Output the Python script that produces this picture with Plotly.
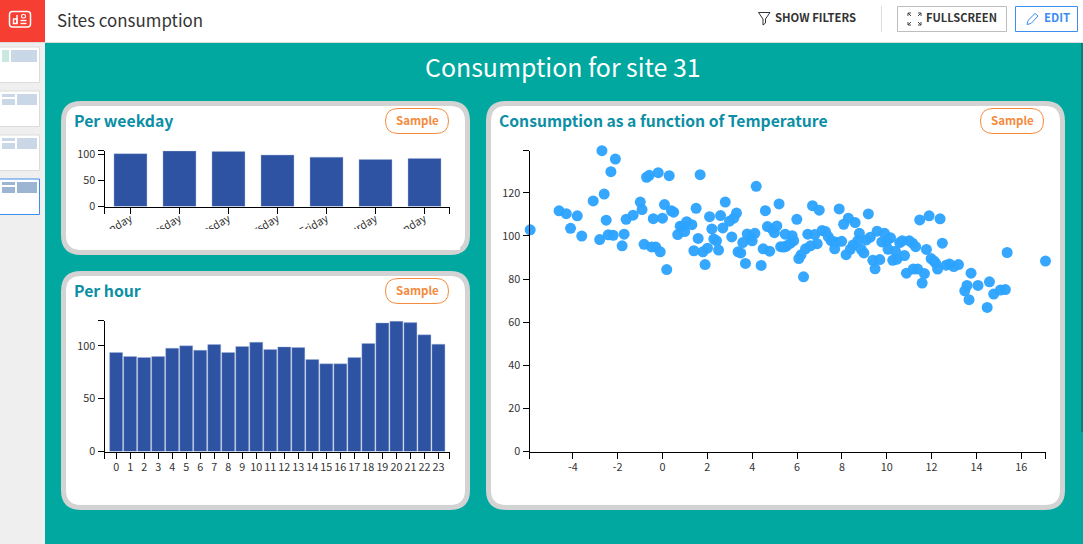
import plotly.graph_objects as go

W, H = 1083, 544
FONT = "Noto Sans CJK SC"

weekdays = ["Monday", "Tuesday", "Wednesday", "Thursday", "Friday", "Saturday", "Sunday"]
weekday_values = [100.6, 105.7, 104.7, 98.0, 94.0, 89.7, 91.6]
hours = list(range(24))
hour_values = [93.7, 89.9, 89.0, 89.9, 97.8, 100.0, 95.9, 101.3, 93.7, 99.4, 103.5, 96.5,
               99.0, 98.4, 87.1, 83.0, 83.0, 89.0, 102.2, 121.7, 123.3, 122.0, 110.4, 101.6]
temperature = [-5.90, -2.70, -2.10, -2.30, -2.60, -3.09, -4.61, -4.29, -3.80, -4.10, -3.60, -2.80,
               -2.51, -2.42, -2.20, -1.71, -1.80, -1.62, -1.31, -0.99, -0.91, -0.82, -0.49, -0.30,
               -0.10, 0.19, -0.71, -0.59, -0.19, 0.30, -0.41, 0.00, 0.09, 0.40, 0.50, 1.50,
               1.68, 2.10, 2.59, 2.80, 3.30, 3.18, 2.99, 2.69, 2.20, 0.68, 0.79, 0.91,
               0.99, 1.08, 1.31, 1.59, 1.40, 1.80, 2.01, 1.90, 2.29, 2.41, 2.50, 3.09,
               3.37, 3.49, 3.70, 4.40, 3.58, 3.78, 4.12, 3.92, 4.00, 4.18, 4.59, 5.20,
               4.49, 4.78, 4.68, 4.89, 4.99, 5.10, 5.47, 5.27, 5.38, 5.54, 5.71, 6.69,
               6.99, 7.88, 5.99, 9.18, 8.29, 8.59, 8.08, 11.47, 11.89, 12.38, 5.78, 6.48,
               6.79, 7.12, 7.27, 7.39, 7.52, 7.71, 7.99, 7.68, 6.90, 6.60, 6.38, 6.18,
               6.08, 6.29, 5.85, 5.48, 8.78, 8.71, 8.50, 8.38, 8.19, 8.86, 8.98, 9.09,
               9.27, 9.57, 9.90, 10.17, 9.78, 9.99, 10.06, 10.39, 9.38, 9.69, 9.48, 10.27,
               10.46, 10.79, 10.58, 10.69, 11.00, 11.15, 11.29, 12.48, 11.77, 11.98, 12.10, 12.18,
               12.27, 12.65, 12.80, 12.99, 13.20, 10.88, 11.18, 11.38, 11.68, 11.58, 13.76, 13.58,
               13.48, 13.67, 14.07, 14.58, 14.77, 14.48, 15.07, 15.29, 15.37, 17.08]
consumption = [102.8, 139.5, 135.6, 129.8, 119.4, 116.2, 111.6, 110.3, 109.3, 103.5, 99.9, 98.3,
               107.3, 100.5, 100.3, 100.8, 95.4, 107.7, 109.6, 115.7, 112.2, 96.1, 94.9, 94.8,
               92.6, 84.4, 127.2, 128.1, 129.3, 127.9, 108.0, 108.2, 114.5, 111.6, 111.0, 112.8,
               128.4, 108.9, 109.4, 115.7, 110.6, 108.2, 106.8, 103.7, 103.2, 100.6, 104.5, 104.6,
               102.0, 106.6, 105.2, 98.8, 93.1, 92.6, 94.3, 86.7, 98.5, 97.7, 93.4, 99.5,
               92.6, 92.1, 87.2, 86.3, 96.9, 100.9, 101.2, 99.7, 97.7, 123.0, 111.7, 114.8,
               94.0, 92.9, 104.3, 103.1, 101.5, 104.6, 100.8, 95.0, 94.8, 95.4, 96.6, 114.0,
               111.9, 112.5, 107.7, 110.2, 108.2, 106.2, 105.4, 107.4, 109.3, 107.9, 100.1, 100.8,
               100.6, 102.5, 102.0, 99.7, 97.8, 97.2, 97.5, 94.0, 96.4, 95.4, 94.0, 91.2,
               89.5, 81.0, 97.8, 95.0, 101.2, 97.8, 95.8, 93.8, 91.3, 93.8, 92.1, 98.1,
               99.4, 102.2, 101.2, 99.1, 97.2, 97.4, 93.8, 92.9, 88.7, 89.0, 84.7, 88.7,
               89.2, 90.9, 96.9, 97.7, 97.8, 96.6, 95.0, 96.6, 93.7, 89.5, 88.4, 87.4,
               84.6, 86.4, 87.0, 85.8, 86.7, 82.7, 84.6, 84.6, 82.5, 78.1, 82.7, 77.0,
               74.5, 70.4, 77.0, 78.7, 73.0, 66.8, 74.9, 75.1, 92.3, 88.3]

TEAL = "#00a89f"
BAR = "#2e53a3"
DOT = "rgba(45,163,255,0.96)"
CARD_TITLE = "#0c8fa6"
ORANGE = "#f58a3c"
BLUE = "#3d8ef0"
AXIS_TEXT = "#333333"


def fx(x):
    return x / W


def fy(y):
    return 1 - y / H


def pth(*cmds):
    out = []
    for c in cmds:
        if len(c) == 1:
            out.append(c[0])
        else:
            nums = c[1:]
            pts = " ".join(f"{fx(nums[i]):.5f},{fy(nums[i + 1]):.5f}" for i in range(0, len(nums), 2))
            out.append(c[0] + pts)
    return " ".join(out)


def rrect_path(x0, y0, x1, y1, r):
    return pth(("M", x0 + r, y0), ("L", x1 - r, y0), ("Q", x1, y0, x1, y0 + r),
               ("L", x1, y1 - r), ("Q", x1, y1, x1 - r, y1), ("L", x0 + r, y1),
               ("Q", x0, y1, x0, y1 - r), ("L", x0, y0 + r), ("Q", x0, y0, x0 + r, y0), ("Z",))


shapes = []


def rect(x0, y0, x1, y1, fill, line=None, lw=1, layer="below"):
    shapes.append(dict(type="rect", xref="paper", yref="paper", x0=fx(x0), x1=fx(x1), y0=fy(y0), y1=fy(y1),
                       fillcolor=fill, line=dict(color=line or "rgba(0,0,0,0)", width=lw if line else 0),
                       layer=layer))


def rrect(x0, y0, x1, y1, r, fill="rgba(0,0,0,0)", line=None, lw=1, layer="below"):
    shapes.append(dict(type="path", xref="paper", yref="paper", path=rrect_path(x0, y0, x1, y1, r),
                       fillcolor=fill, line=dict(color=line or "rgba(0,0,0,0)", width=lw if line else 0),
                       layer=layer))


def stroke(color, lw, *cmds, fill="rgba(0,0,0,0)"):
    shapes.append(dict(type="path", xref="paper", yref="paper", path=pth(*cmds), fillcolor=fill,
                       line=dict(color=color, width=lw), layer="below"))


annotations = []


def text(x, y, s, size, color, anchor="left", bold=False):
    annotations.append(dict(xref="paper", yref="paper", x=fx(x), y=fy(y), text=f"<b>{s}</b>" if bold else s,
                            showarrow=False, xanchor=anchor, yanchor="middle", borderpad=0,
                            font=dict(family=FONT, size=size, color=color)))


# Page chrome
rect(45, 43, W, H, TEAL)
rect(0, 43, 45, H, "#efefef")
rect(0, 0, W, 42, "#ffffff")
rect(0, 42, W, 43, "#dcdcdc")
rect(0, 0, 45, 42, "#f63e32")
rect(1081, 43, 1083, 432, "#0b7f78")
rrect(9.5, 11.5, 30.5, 27, 3, line="#ffffff", lw=1.5)
stroke("#ffffff", 1.4, ("M", 13.5, 19), ("L", 13.5, 23.5), ("L", 17, 23.5), ("L", 17, 19), ("Z",))
stroke("#ffffff", 1.4, ("M", 17, 15), ("L", 17, 23.5))
stroke("#ffffff", 1.4, ("M", 20.5, 23.5), ("L", 26.5, 23.5))
stroke("#ffffff", 1.4, ("M", 20.5, 20.5), ("L", 26.5, 20.5))
rrect(21.5, 14.5, 25.5, 18, 1.5, line="#ffffff", lw=1.2)

# Sidebar thumbnails
for top, border in [(47, "#dcdcdc"), (91, "#dcdcdc"), (135, "#dcdcdc"), (179, BLUE)]:
    rect(-2, top, 39.5, top + 35.5, "#ffffff", line=border, lw=1)
rect(2, 50, 9, 62, "#c8e8e2")
rect(11, 50, 37, 62, "#c9d7e6")
for top, col in [(94, "#c9d7e6"), (138, "#c9d7e6"), (182, "#9bb5d3")]:
    rect(2, top, 15, top + 3, col)
    rect(2, top + 5, 15, top + 11, col)
    rect(17, top, 37, top + 11, col)

# Toolbar
text(55.5, 19.5, "Sites consumption", 16.9, "#333333")
stroke("#333333", 1, ("M", 758.5, 12.5), ("L", 770, 12.5), ("L", 765.5, 19), ("L", 765.5, 23), ("L", 763, 25),
       ("L", 763, 19), ("Z",))
text(774, 17, "SHOW FILTERS", 11.3, "#333333", bold=True)
rect(881, 6, 882, 32, "#dddddd")
rect(897.5, 6.5, 1006.5, 31.5, "#ffffff", line="#bdbdbd", lw=1)
for x, y, dx, dy in [(908, 13, 1, 1), (921, 13, -1, 1), (908, 25, 1, -1), (921, 25, -1, -1)]:
    stroke("#444444", 1, ("M", x, y + 3 * dy), ("L", x, y), ("L", x + 3 * dx, y))
    stroke("#444444", 1, ("M", x, y), ("L", x + 3 * dx, y + 3 * dy))
text(925.5, 17, "FULLSCREEN", 11.1, "#333333", bold=True)
rect(1015.5, 6.5, 1077.5, 31.5, "#ffffff", line=BLUE, lw=1)
stroke(BLUE, 1, ("M", 1027, 24.5), ("L", 1028, 20.5), ("L", 1035, 13.5), ("L", 1038, 16), ("L", 1031, 23.5), ("Z",))
text(1042.5, 17, "EDIT", 11.5, BLUE, bold=True)

# Cards
for x0, y0, x1, y1 in [(61, 101, 470, 255), (61, 271, 470, 510), (486, 101, 1065, 510)]:
    rrect(x0, y0, x1, y1, 20, fill="#d3d3d3")
    rrect(x0 + 5, y0 + 5, x1 - 5, y1 - 5, 15, fill="#ffffff")
for x0, y0 in [(385.5, 108.5), (385.5, 278.5), (980.5, 108.5)]:
    rrect(x0, y0, x0 + 63, y0 + 25, 12.5, fill="#ffffff", line=ORANGE, lw=1)
    text(x0 + 31.5, y0 + 11.5, "Sample", 11.5, ORANGE, anchor="center", bold=True)
text(563, 66.5, "Consumption for site 31", 24.9, "#ffffff", anchor="center")
text(72.5, 120.5, "Per weekday", 15.8, CARD_TITLE, bold=True)
text(72.5, 290.5, "Per hour", 15.8, CARD_TITLE, bold=True)
text(497.5, 120.5, "Consumption as a function of Temperature", 15.7, CARD_TITLE, bold=True)

# Clip of the rotated weekday labels
rect(85, 229, 460, 250, "#ffffff", layer="above")


def axis_common():
    return dict(showgrid=False, zeroline=False, showline=True, linecolor="#000000", linewidth=1,
                ticks="outside", ticklen=6, tickcolor="#000000", tickwidth=1, tickmode="array",
                tickfont=dict(family=FONT, size=10.8, color=AXIS_TEXT), fixedrange=True)


fig = go.Figure()
fig.add_trace(go.Bar(x=list(range(7)), y=weekday_values, marker=dict(color=BAR, line=dict(color="#a9b8dc", width=0.4)),
                     xaxis="x", yaxis="y"))
fig.add_trace(go.Bar(x=hours, y=hour_values, marker=dict(color=BAR, line=dict(color="#a9b8dc", width=0.4)),
                     xaxis="x2", yaxis="y2"))
fig.add_trace(go.Scatter(x=temperature, y=consumption, mode="markers", cliponaxis=False,
                         marker=dict(color=DOT, size=11, line=dict(width=0)), xaxis="x3", yaxis="y3"))

wk_range = [-0.53, 6.51]
hr_range = [-0.83, 23.79]
sc_range = [-5.93, 17.08]
wk_top, hr_top, sc_top = 106.7, 124.0, 139.6
sc_ticks = [-4, -2, 0, 2, 4, 6, 8, 10, 12, 14, 16]

fig.update_layout(
    width=W, height=H, margin=dict(l=0, r=0, t=0, b=0, autoexpand=False), showlegend=False,
    paper_bgcolor="#ffffff", plot_bgcolor="rgba(0,0,0,0)", bargap=0.327,
    shapes=shapes, annotations=annotations,
    font=dict(family=FONT),
    xaxis=dict(axis_common(), domain=[fx(104.5), fx(449.5)], range=wk_range, anchor="y", tickangle=-30,
               ticklabelstandoff=-5,
               tickvals=[wk_range[0]] + list(range(7)) + [wk_range[1]], ticktext=[""] + weekdays + [""]),
    yaxis=dict(axis_common(), domain=[fy(206.5), fy(150.5)], range=[0, wk_top], anchor="x",
               tickvals=[0, 50, 100, wk_top], ticktext=["0", "50", "100", ""]),
    xaxis2=dict(axis_common(), domain=[fx(104.5), fx(449.5)], range=hr_range, anchor="y2", tickangle=0,
                tickvals=[hr_range[0]] + hours + [hr_range[1]], ticktext=[""] + [str(h) for h in hours] + [""]),
    yaxis2=dict(axis_common(), domain=[fy(451.5), fy(320.5)], range=[0, hr_top], anchor="x2",
                tickvals=[0, 50, 100, hr_top], ticktext=["0", "50", "100", ""]),
    xaxis3=dict(axis_common(), domain=[fx(529.5), fx(1045.5)], range=sc_range, anchor="y3", tickangle=0,
                tickvals=[sc_range[0]] + sc_ticks + [sc_range[1]], ticktext=[""] + [str(t) for t in sc_ticks] + [""]),
    yaxis3=dict(axis_common(), domain=[fy(451.5), fy(150.5)], range=[0, sc_top], anchor="x3",
                tickvals=[0, 20, 40, 60, 80, 100, 120, sc_top], ticktext=["0", "20", "40", "60", "80", "100", "120", ""]),
)
fig.data[1].update(width=0.93)

fig.write_html("out.html", config=dict(displayModeBar=False),
               post_script="document.body.style.margin='0';document.documentElement.style.overflow='hidden';")
